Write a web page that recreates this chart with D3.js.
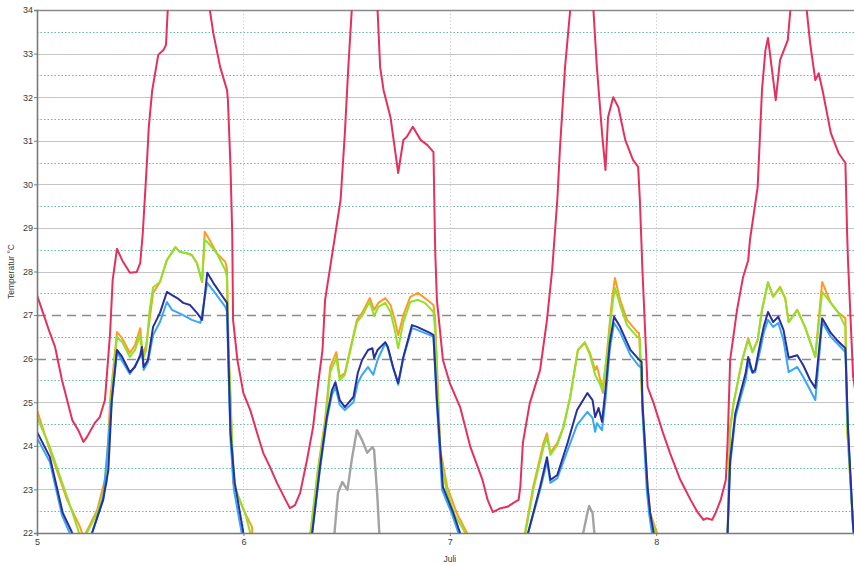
<!DOCTYPE html>
<html>
<head>
<meta charset="utf-8">
<script src="https://cdn.jsdelivr.net/npm/d3@7"></script>
<style>
  html, body { margin: 0; padding: 0; background: #fff; }
  svg { display: block; font-family: "Liberation Sans", Arial, sans-serif; }
</style>
</head>
<body>
<div id="chart"></div>
<script>
// ---- data (time in hours from 5 Juli 00:00, temperature in °C) ----
const xTickHours = [0, 24, 48, 72];
const xTickLabels = ["5", "6", "7", "8"];
const yTicks = [22, 23, 24, 25, 26, 27, 28, 29, 30, 31, 32, 33, 34];
const limitLines = [26, 27];
const xTitle = "Juli";
const yTitle = "Temperatur °C";

const redSeries = [
  [0,27.46],[0.7,27.05],[1.5,26.59],[2.1,26.27],[2.9,25.51],[4.1,24.59],[4.8,24.36],[5.4,24.09],[5.8,24.2],[6.7,24.52],[7.3,24.66],[7.9,25.05],
  [8.5,26.59],[8.8,27.81],[9.3,28.52],[9.9,28.26],[10.8,27.97],[11.6,27.99],[12.0,28.19],[12.3,28.88],[12.8,30.56],[13.0,31.32],[13.4,32.16],
  [14.1,32.97],[14.7,33.08],[15.0,33.2],[15.2,34.0],[16.5,35.8],[18.5,36.0],[20.1,34.0],[20.5,33.47],[21.3,32.69],[22.1,32.16],[22.2,31.93],
  [22.5,30.4],[22.7,28.88],[22.8,26.89],[23.3,25.97],[24.0,25.21],[24.8,24.82],[25.6,24.29],[26.3,23.84],[27.1,23.51],[27.9,23.15],[28.9,22.76],
  [29.4,22.57],[30.0,22.64],[30.6,22.92],[31.4,23.68],[32.1,24.43],[32.7,25.44],[33.2,26.2],[33.5,27.35],[34.4,28.49],[35.3,29.64],[35.8,31.18],
  [36.2,32.69],[36.6,34.0],[38.0,36.2],[39.6,34.0],[39.9,32.69],[40.3,32.16],[41.1,31.54],[42.0,30.26],[42.6,31.02],[43.0,31.09],[43.7,31.32],
  [44.6,31.02],[45.4,30.9],[46.1,30.74],[46.3,28.49],[46.5,27.35],[47.2,25.97],[48.0,25.44],[49.2,24.89],[50.4,23.97],[51.8,23.22],[52.4,22.76],
  [53.0,22.48],[53.9,22.57],[54.7,22.6],[55.4,22.69],[56.0,22.76],[56.2,23.06],[56.5,24.07],[57.3,24.98],[58.5,25.74],[59.3,26.89],[59.9,28.03],
  [60.5,29.64],[60.8,30.79],[61.4,32.69],[62.0,34.0],[63.4,36.5],[64.7,34.0],[65.1,32.69],[65.7,31.18],[66.1,30.33],[66.4,31.54],[67.0,32.0],
  [67.6,31.77],[68.4,31.02],[69.3,30.56],[69.9,30.4],[70.1,29.64],[70.4,28.03],[71.0,25.35],[71.7,24.98],[72.8,24.29],[73.6,23.84],[74.8,23.22],
  [76.0,22.76],[76.8,22.48],[77.5,22.3],[77.9,22.34],[78.5,22.3],[78.9,22.46],[79.5,22.76],[80.1,23.22],[80.3,24.07],[80.6,25.97],[81.4,27.12],
  [82.1,27.87],[82.7,28.26],[82.9,28.72],[83.8,29.94],[84.3,32.16],[84.7,33.08],[85.0,33.36],[85.9,31.93],[86.4,32.85],[87.3,33.31],[87.6,34.0],
  [88.5,35.0],[89.5,34.0],[89.9,33.24],[90.5,32.39],[90.9,32.55],[91.4,32.1],[92.3,31.18],[93.2,30.72],[94.0,30.49],[94.2,28.88],[94.3,28.26],
  [94.9,25.58],[95.5,24.8]
];

const orangeSeries = [
  [0,24.82],[1.5,23.9],[3.5,22.76],[5.0,22.14],[5.4,21.9],[5.8,22.05],[7.0,22.53],[8.1,23.38],[8.5,25.05],[9.3,26.61],[9.9,26.47],[10.8,26.13],
  [11.4,26.31],[12.0,26.7],[12.3,26.08],[12.7,26.31],[13.5,27.51],[14.3,27.76],[15.1,28.26],[16.1,28.56],[16.6,28.45],[17.4,28.42],[18.0,28.38],
  [18.6,28.19],[19.2,27.76],[19.5,28.91],[19.8,28.82],[20.9,28.42],[21.9,28.22],[22.1,28.03],[22.2,26.43],[22.5,25.05],[22.8,23.15],[24.0,22.53],
  [25.0,22.14],[25.1,21.8],[28.0,21.0],[31.5,21.8],[31.8,22.0],[32.7,23.5],[33.5,24.6],[34.1,25.81],[34.8,26.15],[35.2,25.58],[35.8,25.67],
  [36.4,26.2],[37.2,26.89],[37.8,27.05],[38.4,27.28],[38.7,27.39],[39.2,27.12],[39.7,27.28],[40.5,27.39],[41.1,27.23],[41.6,26.89],[42.0,26.54],
  [42.6,27.0],[43.4,27.42],[44.3,27.51],[45.1,27.39],[46.1,27.23],[46.3,26.89],[46.9,23.9],[47.7,23.06],[48.8,22.46],[50.0,22.0],[50.1,21.8],
  [53.0,21.0],[56.6,21.8],[56.8,22.07],[57.7,23.06],[58.9,24.07],[59.3,24.29],[59.7,23.84],[60.5,24.07],[61.2,24.43],[62.0,25.12],[62.9,26.2],
  [63.7,26.36],[64.3,26.13],[64.9,25.74],[65.1,25.83],[65.5,25.51],[65.8,25.21],[66.3,26.2],[66.9,27.42],[67.2,27.85],[67.8,27.35],[68.6,26.89],
  [69.8,26.61],[70.0,26.59],[70.4,24.98],[71.0,23.06],[71.3,22.46],[72.1,22.0],[72.3,21.8],[76.0,21.0],[80.2,21.8],[80.3,22.0],[80.6,24.43],
  [81.0,24.98],[82.0,25.97],[82.7,26.47],[83.2,26.15],[83.8,26.43],[84.3,27.12],[85.0,27.74],[85.6,27.42],[86.4,27.65],[87.0,27.39],[87.4,26.84],
  [88.4,27.12],[89.3,26.73],[90.5,26.04],[91.3,27.76],[92.3,27.28],[93.2,27.05],[94.0,26.93],[94.2,24.43],[94.9,22.14],[95.2,21.7]
];

const greenSeries = [
  [0,24.66],[1.5,23.97],[3.5,22.83],[4.9,22.0],[5.3,21.8],[5.8,22.0],[7.0,22.46],[8.1,23.15],[8.6,25.05],[9.3,26.5],[9.9,26.38],[10.8,26.04],
  [11.4,26.2],[12.0,26.54],[12.3,25.97],[12.7,26.2],[13.1,27.12],[13.5,27.64],[14.3,27.76],[15.1,28.26],[16.1,28.56],[16.6,28.45],[17.4,28.42],
  [18.0,28.38],[18.6,28.19],[19.2,27.76],[19.5,28.72],[19.8,28.68],[20.9,28.42],[21.9,28.03],[22.1,27.85],[22.3,26.2],[22.6,24.59],[22.9,23.1],
  [24.2,22.46],[24.8,22.0],[25.0,21.8],[28.0,21.0],[31.5,21.8],[31.8,22.0],[32.7,23.5],[33.5,24.48],[34.1,25.69],[34.8,26.02],[35.2,25.51],
  [35.8,25.63],[36.4,26.15],[37.2,26.84],[37.8,26.98],[38.4,27.21],[38.7,27.3],[39.2,26.98],[39.7,27.19],[40.5,27.28],[41.1,27.07],[41.6,26.66],
  [42.0,26.24],[42.6,26.84],[43.4,27.3],[44.3,27.35],[45.1,27.28],[46.1,27.07],[46.3,26.66],[46.9,23.79],[47.6,22.99],[48.6,22.41],[49.8,22.0],
  [50.0,21.8],[53.0,21.0],[56.5,21.8],[56.8,22.0],[57.7,22.99],[58.9,23.97],[59.3,24.2],[59.7,23.79],[60.5,24.02],[61.2,24.41],[62.0,25.12],
  [62.9,26.2],[63.7,26.38],[64.3,26.08],[64.9,25.63],[65.5,25.4],[65.7,25.28],[66.3,26.08],[66.9,27.23],[67.2,27.62],[67.8,27.23],[68.6,26.77],
  [69.8,26.5],[70.1,26.47],[70.4,24.82],[71.0,22.99],[71.3,22.41],[71.9,22.0],[72.1,21.8],[76.0,21.0],[80.2,21.8],[80.3,22.0],[80.6,24.36],
  [81.0,24.98],[82.0,25.97],[82.7,26.43],[83.2,26.15],[83.8,26.43],[84.3,27.12],[85.0,27.76],[85.6,27.42],[86.4,27.62],[87.0,27.39],[87.4,26.84],
  [88.4,27.12],[89.3,26.73],[90.5,26.04],[91.3,27.53],[92.3,27.28],[93.2,27.05],[94.0,26.73],[94.2,24.43],[94.9,22.14],[95.2,21.7]
];

const lightBlueSeries = [
  [0,24.18],[1.5,23.63],[2.9,22.41],[3.8,22.0],[4.1,21.8],[6.0,21.0],[6.3,21.8],[6.4,22.0],[7.7,22.8],[8.7,25.05],[9.3,26.15],[10.8,25.65],
  [12.0,26.04],[12.2,26.2],[12.4,25.74],[12.9,25.92],[13.5,26.54],[14.3,26.84],[15.1,27.3],[15.7,27.12],[17.0,27.0],[18.0,26.89],[19.0,26.82],
  [19.8,27.74],[20.7,27.51],[21.9,27.19],[22.1,27.07],[22.3,25.51],[22.5,24.13],[22.9,22.99],[23.8,22.0],[24.0,21.8],[28.0,21.0],[31.8,21.8],
  [32.0,22.0],[32.9,23.45],[33.7,24.59],[34.3,25.17],[34.7,25.35],[35.2,24.94],[35.8,24.82],[36.8,25.0],[37.3,25.44],[37.8,25.63],[38.5,25.81],
  [39.1,25.63],[39.6,25.97],[40.5,26.36],[40.8,26.24],[41.4,25.79],[42.0,25.4],[42.6,26.02],[43.6,26.7],[44.2,26.66],[45.7,26.54],[46.1,26.5],
  [46.5,24.94],[47.1,22.99],[48.3,22.41],[49.0,22.0],[49.2,21.8],[53.0,21.0],[56.9,21.8],[57.1,22.0],[58.5,22.99],[59.3,23.63],[59.7,23.15],
  [60.5,23.26],[61.7,23.9],[62.8,24.48],[64.0,24.78],[64.6,24.64],[64.9,24.32],[65.1,24.52],[65.7,24.36],[66.1,25.05],[66.6,26.2],[67.1,26.82],
  [67.8,26.61],[69.0,26.08],[69.9,25.85],[70.3,25.79],[70.4,24.82],[70.9,22.99],[71.2,22.41],[71.5,22.0],[71.7,21.8],[76.0,21.0],[80.2,21.8],
  [80.3,22.0],[80.6,23.56],[81.2,24.64],[81.8,25.1],[82.4,25.51],[82.7,25.9],[83.2,25.67],[83.5,25.69],[84.1,26.2],[84.5,26.59],[85.0,26.89],
  [85.6,26.73],[86.2,26.82],[86.8,26.43],[87.4,25.69],[88.4,25.81],[89.1,25.58],[89.9,25.28],[90.5,25.05],[91.3,26.84],[92.3,26.5],[93.0,26.36],
  [94.0,26.15],[94.3,24.36],[94.9,22.07],[95.2,21.7]
];

const navySeries = [
  [0,24.32],[1.5,23.74],[3.0,22.46],[4.1,22.0],[4.4,21.8],[6.0,21.0],[6.3,21.8],[6.4,22.0],[7.7,22.76],[8.3,23.45],[8.7,25.05],[9.3,26.2],
  [9.9,26.04],[10.8,25.69],[11.4,25.81],[12.0,26.08],[12.2,26.27],[12.4,25.81],[12.9,25.97],[13.5,26.73],[14.3,27.05],[15.1,27.53],[15.7,27.46],
  [16.3,27.39],[17.0,27.28],[17.8,27.23],[18.6,27.05],[19.2,26.89],[19.8,27.97],[20.5,27.74],[21.6,27.42],[22.1,27.28],[22.3,25.74],[22.5,24.29],
  [23.0,23.15],[24.0,22.0],[24.2,21.8],[28.0,21.0],[31.8,21.8],[32.0,22.0],[32.9,23.51],[33.7,24.66],[34.3,25.28],[34.7,25.46],[35.2,25.05],
  [35.8,24.89],[36.8,25.12],[37.3,25.67],[37.8,25.97],[38.5,26.2],[39.0,26.24],[39.2,26.01],[39.6,26.2],[40.5,26.38],[40.8,26.27],[41.4,25.81],
  [42.0,25.44],[42.6,26.04],[43.6,26.77],[44.2,26.73],[45.7,26.59],[46.1,26.54],[46.5,25.05],[47.2,23.06],[48.4,22.46],[49.2,22.0],[49.4,21.8],
  [53.0,21.0],[56.9,21.8],[57.1,22.0],[58.5,23.06],[59.3,23.74],[59.7,23.22],[60.5,23.33],[61.7,24.07],[62.8,24.82],[64.0,25.21],[64.6,25.05],
  [64.9,24.66],[65.3,24.87],[65.7,24.55],[66.1,25.28],[66.6,26.36],[67.1,26.96],[67.8,26.73],[69.0,26.2],[69.9,26.0],[70.3,25.93],[70.4,24.98],
  [71.0,23.06],[71.3,22.46],[71.7,22.0],[71.9,21.8],[76.0,21.0],[80.2,21.8],[80.3,22.0],[80.6,23.67],[81.2,24.75],[81.8,25.21],[82.4,25.67],
  [82.7,26.04],[83.2,25.69],[83.5,25.74],[84.1,26.36],[84.5,26.73],[85.0,27.07],[85.6,26.84],[86.2,26.96],[86.8,26.66],[87.4,26.02],[88.4,26.08],
  [89.1,25.85],[89.9,25.51],[90.5,25.33],[91.3,26.93],[92.3,26.59],[93.0,26.43],[94.0,26.24],[94.3,24.43],[94.9,22.14],[95.2,21.7]
];

const graySeries = [
  [0,20.5],[20,20.5],[34.5,21.8],[35.0,22.92],[35.5,23.17],[36.1,22.99],[36.6,23.68],[37.2,24.36],[37.8,24.13],[38.4,23.84],[39.0,23.97],
  [39.2,23.9],[39.6,22.76],[39.8,22.0],[40.0,21.8],[50,20.5],[63.3,21.8],[64.0,22.46],[64.2,22.62],[64.6,22.46],[64.9,21.8],[75,20.5],[95.5,20.5]
];

const seriesList = [
  { name: "gray", data: graySeries, color: "#a3a3a3" },
  { name: "orange", data: orangeSeries, color: "#ff9b22" },
  { name: "green", data: greenSeries, color: "#8fe22a" },
  { name: "lightblue", data: lightBlueSeries, color: "#3aa6f6" },
  { name: "navy", data: navySeries, color: "#28309c" },
  { name: "red", data: redSeries, color: "#e5305c" }
];

// ---- layout ----
const W = 854, H = 565;
const margin = { top: 10, right: 0, bottom: 32, left: 37 };
const iw = W - margin.left - margin.right;
const ih = H - margin.top - margin.bottom;

const x = d3.scaleLinear().domain([0, 95]).range([0, iw]);
const y = d3.scaleLinear().domain([22, 34]).range([ih, 0]);

const svg = d3.select("#chart").append("svg").attr("width", W).attr("height", H);
const g = svg.append("g").attr("transform", `translate(${margin.left},${margin.top})`);

svg.append("defs").append("clipPath").attr("id", "clip")
  .append("rect").attr("x", 0).attr("y", 0).attr("width", iw).attr("height", ih);

// half-degree dotted grid
const halfTicks = yTicks.slice(0, -1).map(t => t + 0.5);
g.append("g").selectAll("line").data(halfTicks).join("line")
  .attr("x1", 0).attr("x2", iw)
  .attr("y1", d => Math.round(y(d)) + 0.5).attr("y2", d => Math.round(y(d)) + 0.5)
  .attr("stroke", "#63b8a6").attr("stroke-width", 1).attr("stroke-dasharray", "1.5,2");

// integer solid grid
g.append("g").selectAll("line").data(yTicks.filter(t => !limitLines.includes(t) && t !== 22 && t !== 34)).join("line")
  .attr("x1", 0).attr("x2", iw)
  .attr("y1", d => Math.round(y(d)) + 0.5).attr("y2", d => Math.round(y(d)) + 0.5)
  .attr("stroke", "#c4c4c4").attr("stroke-width", 1.2);

// vertical dotted day grid
g.append("g").selectAll("line").data(xTickHours.slice(1)).join("line")
  .attr("x1", d => Math.round(x(d)) + 0.5).attr("x2", d => Math.round(x(d)) + 0.5)
  .attr("y1", 0).attr("y2", ih)
  .attr("stroke", "#d2d2d2").attr("stroke-width", 1).attr("stroke-dasharray", "1.5,2");

// limit dashed lines
g.append("g").selectAll("line").data(limitLines).join("line")
  .attr("x1", 0).attr("x2", iw)
  .attr("y1", d => Math.round(y(d)) + 0.5).attr("y2", d => Math.round(y(d)) + 0.5)
  .attr("stroke", "#8c8c8c").attr("stroke-width", 1.6).attr("stroke-dasharray", "9,6");

// top border
g.append("line").attr("x1", 0).attr("x2", iw).attr("y1", 0.5).attr("y2", 0.5)
  .attr("stroke", "#8a8a8a").attr("stroke-width", 1.5);

// lines
const line = d3.line().x(d => x(d[0])).y(d => y(d[1]));
const lg = g.append("g").attr("clip-path", "url(#clip)");
lg.selectAll("path").data(seriesList).join("path")
  .attr("d", d => line(d.data))
  .attr("fill", "none")
  .attr("stroke", d => d.color)
  .attr("stroke-width", d => d.name === "gray" ? 2.4 : 2)
  .attr("stroke-linejoin", "round");

// axes
const yAxis = g.append("g").call(d3.axisLeft(y).tickValues(yTicks).tickSize(3).tickFormat(d3.format("d")));
const xAxis = g.append("g").attr("transform", `translate(0,${ih})`)
  .call(d3.axisBottom(x).tickValues(xTickHours).tickSize(3).tickFormat((d, i) => xTickLabels[i]));

[yAxis, xAxis].forEach(a => {
  a.select(".domain").attr("stroke", "#7a7a7a").attr("stroke-width", 1.6);
  a.selectAll(".tick line").attr("stroke", "#7a7a7a");
  a.selectAll("text").attr("fill", "#3a3a3a").style("font-size", "9px").style("font-family", "'Liberation Sans', Arial, sans-serif");
});
yAxis.selectAll("text").attr("x", -4);
xAxis.selectAll("text").attr("y", 6);

// titles
svg.append("text")
  .attr("transform", `translate(14,${margin.top + ih / 2}) rotate(-90)`)
  .attr("text-anchor", "middle")
  .attr("fill", "#3a3a3a")
  .style("font-size", "8.5px")
  .text(yTitle);

svg.append("text")
  .attr("x", margin.left + x(48)).attr("y", 562)
  .attr("text-anchor", "middle")
  .attr("fill", "#3a3a3a")
  .style("font-size", "8.5px")
  .text(xTitle);
</script>
</body>
</html>
